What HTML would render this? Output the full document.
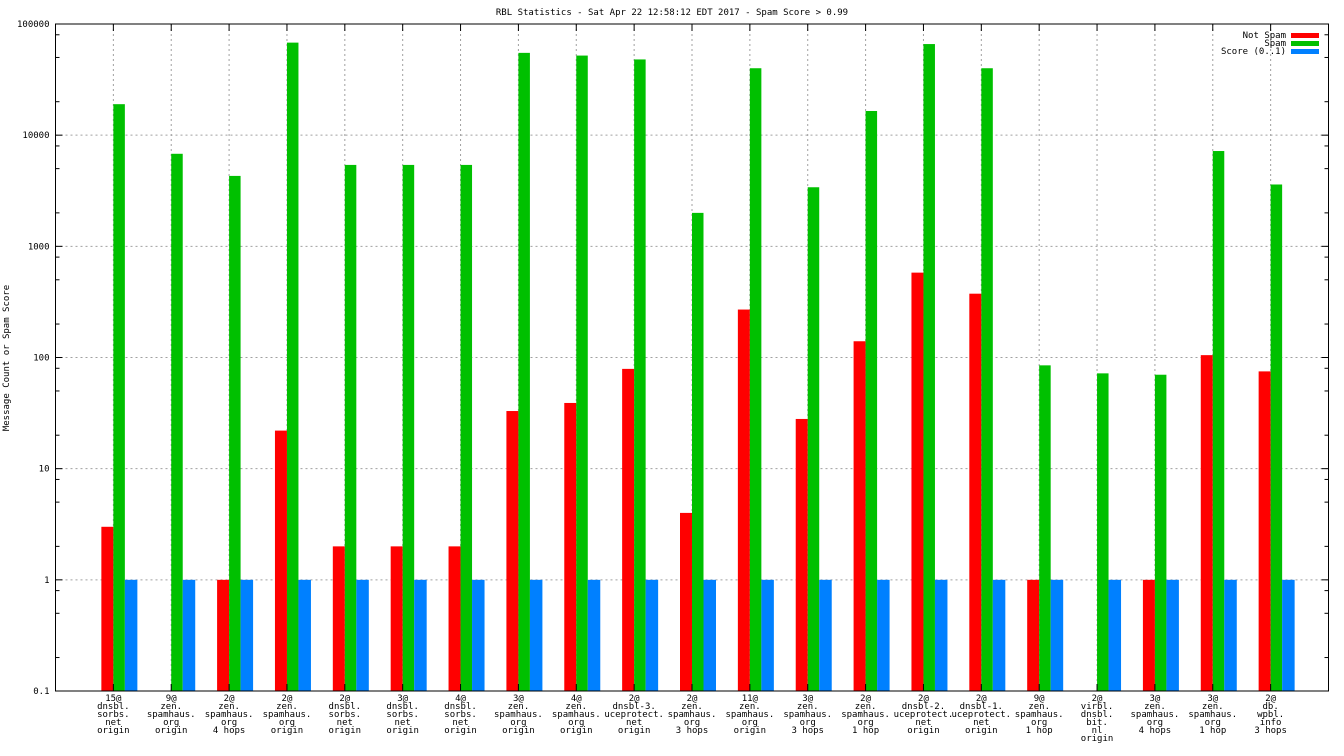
<!DOCTYPE html>
<html><head><meta charset="utf-8"><style>
body{margin:0;background:#fff}
svg{display:block;font-family:"DejaVu Sans Mono","Liberation Mono",monospace;font-size:9px}
</style></head><body>
<svg id="chart" width="1344" height="756" viewBox="0 0 1344 756">
<text x="672" y="15" text-anchor="middle">RBL Statistics - Sat Apr 22 12:58:12 EDT 2017 - Spam Score &gt; 0.99</text>
<text transform="translate(9,358) rotate(-90)" text-anchor="middle">Message Count or Spam Score</text>
<g id="grid"></g><g id="bars"></g><g id="axes"></g>
<g>
<text x="1286" y="38" text-anchor="end">Not Spam</text>
<rect x="1291" y="33" width="28" height="5" fill="#ff0000"/>
<text x="1286" y="46" text-anchor="end">Spam</text>
<rect x="1291" y="41" width="28" height="5" fill="#00c000"/>
<text x="1286" y="54" text-anchor="end">Score (0..1)</text>
<rect x="1291" y="49" width="28" height="5" fill="#0080ff"/>
</g>
</svg>
<script>
const categories=[["15@","dnsbl.","sorbs.","net","origin"],["9@","zen.","spamhaus.","org","origin"],["2@","zen.","spamhaus.","org","4 hops"],["2@","zen.","spamhaus.","org","origin"],["2@","dnsbl.","sorbs.","net","origin"],["3@","dnsbl.","sorbs.","net","origin"],["4@","dnsbl.","sorbs.","net","origin"],["3@","zen.","spamhaus.","org","origin"],["4@","zen.","spamhaus.","org","origin"],["2@","dnsbl-3.","uceprotect.","net","origin"],["2@","zen.","spamhaus.","org","3 hops"],["11@","zen.","spamhaus.","org","origin"],["3@","zen.","spamhaus.","org","3 hops"],["2@","zen.","spamhaus.","org","1 hop"],["2@","dnsbl-2.","uceprotect.","net","origin"],["2@","dnsbl-1.","uceprotect.","net","origin"],["9@","zen.","spamhaus.","org","1 hop"],["2@","virbl.","dnsbl.","bit.","nl","origin"],["3@","zen.","spamhaus.","org","4 hops"],["3@","zen.","spamhaus.","org","1 hop"],["2@","db.","wpbl.","info","3 hops"]];
const notSpam=[3,0,1,22,2,2,2,33,39,79,4,270,28,140,580,375,1,0,1,105,75];
const spam=[19000,6800,4300,68000,5400,5400,5400,55000,52000,48000,2000,40000,3400,16500,66000,40000,85,72,70,7200,3600];
const score=[1,1,1,1,1,1,1,1,1,1,1,1,1,1,1,1,1,1,1,1,1];
const yTicks=[0.1,1,10,100,1000,10000,100000];
const yTickLabels=["0.1","1","10","100","1000","10000","100000"];

const NS="http://www.w3.org/2000/svg";
const L=55.5,R=1328.5,T=24,B=691;
const step=(R-L)/(categories.length+1);
function xc(i){return L+(i+1)*step;}
function y(v){return B-(Math.log10(v)+1)/6*(B-T);}
function mk(tag,attrs,parent){const e=document.createElementNS(NS,tag);for(const k in attrs)e.setAttribute(k,attrs[k]);parent.appendChild(e);return e;}
const grid=document.getElementById('grid'),bars=document.getElementById('bars'),axes=document.getElementById('axes');
yTicks.forEach((v,k)=>{
  const yy=y(v);
  if(k>0&&k<yTicks.length-1){const g=mk('line',{x1:L,x2:R,y1:yy,y2:yy,stroke:'#a0a0a0','stroke-dasharray':'2,3'},grid);
  
  }
  mk('line',{x1:L,x2:L+7,y1:yy,y2:yy,stroke:'#000'},axes);
  mk('line',{x1:R,x2:R-7,y1:yy,y2:yy,stroke:'#000'},axes);
  const t=mk('text',{x:L-6,y:yy+3,'text-anchor':'end'},axes);t.textContent=yTickLabels[k];
  
  
  if(k<yTicks.length-1){[2,5,8].forEach(m=>{const my=y(v*m);mk('line',{x1:L,x2:L+4,y1:my,y2:my,stroke:'#000'},axes);mk('line',{x1:R,x2:R-4,y1:my,y2:my,stroke:'#000'},axes);});}
});
categories.forEach((lab,i)=>{
  const c=xc(i);
  const g=mk('line',{x1:c,x2:c,y1:T,y2:B,stroke:'#a0a0a0','stroke-dasharray':'2,3'},grid);
  
  
  mk('line',{x1:c,x2:c,y1:T,y2:T+7,stroke:'#000'},axes);
  mk('line',{x1:c,x2:c,y1:B,y2:B-7,stroke:'#000'},axes);
  const series=[[notSpam[i],'#ff0000',c-12,12,'bar-not-spam'],[spam[i],'#00c000',c,11.5,'bar-spam'],[score[i],'#0080ff',c+11.5,12.5,'bar-score']];
  series.forEach(s=>{ if(s[0]>0.1){const yy=y(s[0]);const r=mk('rect',{x:s[2],y:yy,width:s[3],height:B-yy,fill:s[1]},bars);
    
    }});
  const t=mk('text',{'text-anchor':'middle'},axes);
  
  
  lab.forEach((ln,j)=>{const ts=mk('tspan',{x:c,y:701+j*8},t);ts.textContent=ln;});
});
mk('rect',{x:L,y:T,width:R-L,height:B-T,fill:'none',stroke:'#000','stroke-width':1},axes);
</script>
</body></html>
